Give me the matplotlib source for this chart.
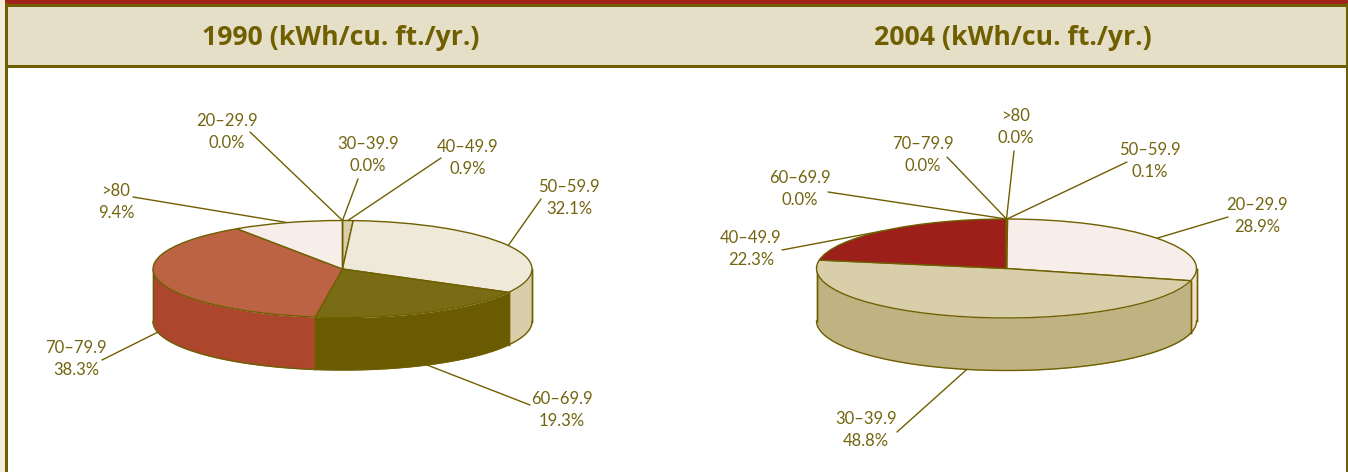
#! /usr/bin/env python
# -*- coding: utf-8 -*-

import numpy as np
from matplotlib import pyplot as plt
from matplotlib.patches import Rectangle

# Data, clockwise from 12 o'clock
labels1990 = ["30–39.9", "40–49.9", "50–59.9", "60–69.9", "70–79.9", ">80", "20–29.9"]
values1990 = [0.0, 0.9, 32.1, 19.3, 38.3, 9.4, 0.0]

labels2004 = ["50–59.9", "20–29.9", "30–39.9", "40–49.9", "60–69.9", "70–79.9", ">80"]
values2004 = [0.1, 28.9, 48.8, 22.3, 0.0, 0.0, 0.0]

title1990 = "1990 (kWh/cu. ft./yr.)"
title2004 = "2004 (kWh/cu. ft./yr.)"

# Styles
OLIVE = "#6f5f00"
TEXT = "#736510"
tops1990 = ["#d8cea9", "#d8cea9", "#efe9da", "#7a6c14", "#bc6343", "#f7eee9", "#f7eee9"]
sides1990 = ["#bfb382", "#bfb382", "#d8cea9", "#6b5b00", "#ac472d", "#f3dfcf", "#f3dfcf"]
tops2004 = ["#efe9da", "#f7eee9", "#d8cea9", "#9c1f19", "#7a6c14", "#bc6343", "#f7eee9"]
sides2004 = ["#d8cea9", "#f3dfcf", "#bfb382", "#84170f", "#6b5b00", "#ac472d", "#f3dfcf"]

# Layout in image pixels: leader ends and text centres
ends1990 = [(358, 179), (441, 158), (541, 199), (530, 405), (102, 360), (133, 197), (250, 132)]
texts1990 = [(368, 155), (468, 158), (569, 198), (562, 410), (76, 359), (116, 202), (227, 132)]
ends2004 = [(1127, 162), (1228, 217), (897, 432), (782, 250), (828, 192), (947, 157), (1014, 151)]
texts2004 = [(1150, 161), (1257, 216), (866, 430), (751, 249), (800, 189), (923, 155), (1016, 127)]

W = 1348
H = 472
plt.rcParams['font.family'] = ['Lato', 'DejaVu Sans']


def px(x, y):
    return x / W, 1 - y / H


def drawPie(fig, values, labels, tops, sides, ends, texts, cx, cy, rx, ry, depthPx):
    # Full-figure axes where the unit circle lands on the wanted ellipse
    ax = fig.add_axes([0, 0, 1, 1])
    wedges, _ = ax.pie(values, startangle=90, counterclock=False, colors=tops,
                       wedgeprops={'edgecolor': OLIVE, 'linewidth': 1.0})
    ax.set_aspect('auto')
    ax.set_xlim(-cx / rx, (W - cx) / rx)
    ax.set_ylim((cy - H) / ry, cy / ry)
    depth = depthPx / ry

    total = float(sum(values))
    acc = 0.0
    for i in range(0, len(values)):
        startDeg = 90 - 360 * acc / total
        endDeg = 90 - 360 * (acc + values[i]) / total
        midDeg = (startDeg + endDeg) / 2
        acc += values[i]

        # Side wall: the part of the wedge on the front half of the rim
        lo = max(endDeg, -180)
        hi = min(startDeg, 0)
        if hi > lo:
            t = np.radians(np.linspace(lo, hi, 120))
            ax.fill_between(np.cos(t), np.sin(t) - depth, np.sin(t), color=sides[i],
                            linewidth=0, zorder=0.5)
            ax.plot(np.cos(t), np.sin(t) - depth, color=OLIVE, linewidth=1.0, zorder=0.6)
            for edge in (t[0], t[-1]):
                ax.plot([np.cos(edge), np.cos(edge)], [np.sin(edge), np.sin(edge) - depth],
                        color=OLIVE, linewidth=1.0, zorder=0.6)

        # Leader from the rim to the label, under the pie
        mid = np.radians(midDeg)
        ax1 = np.cos(mid)
        ay1 = np.sin(mid)
        if ay1 < 0:
            ay1 -= depth
        ax.annotate("", xy=(ax1, ay1), xycoords='data',
                    xytext=px(*ends[i]), textcoords='figure fraction',
                    arrowprops={'arrowstyle': '-', 'color': OLIVE, 'linewidth': 1.0,
                                'shrinkA': 0, 'shrinkB': 0}, zorder=0.2)

        tx, ty = px(*texts[i])
        fig.text(tx, ty, labels[i] + "\n" + ('%.1f' % values[i]) + "%", ha='center',
                 va='center', multialignment='center', color=TEXT, fontsize=12.0,
                 linespacing=1.42)

    # The wall's flat ends of the rim
    for s in (-1, 1):
        ax.plot([s, s], [0, -depth], color=OLIVE, linewidth=1.0, zorder=0.6)
    return ax


if __name__ == "__main__":
    fig = plt.figure(figsize=(W / 100.0, H / 100.0), dpi=100)
    fig.patch.set_facecolor('white')

    # Panel frame and header band
    bg = fig.add_axes([0, 0, 1, 1])
    bg.set_xlim(0, W)
    bg.set_ylim(H, 0)
    bg.axis('off')
    bg.add_patch(Rectangle((0, 0), 5, H, facecolor='#f2ecdd', linewidth=0))
    bg.add_patch(Rectangle((5, 6), W, 59, facecolor='#e5dfc7', linewidth=0))
    bg.add_patch(Rectangle((5, 0), W, 3.5, facecolor='#a3231b', linewidth=0))
    bg.add_patch(Rectangle((5, 3.5), W, 3, facecolor=OLIVE, linewidth=0))
    bg.add_patch(Rectangle((5, 64.5), W, 3, facecolor=OLIVE, linewidth=0))
    bg.add_patch(Rectangle((5, 3), 2.5, H, facecolor=OLIVE, linewidth=0))
    bg.add_patch(Rectangle((1346, 3), 2, H, facecolor=OLIVE, linewidth=0))

    for title, x in ((title1990, 341), (title2004, 1013)):
        tx, ty = px(x, 38)
        fig.text(tx, ty, title, ha='center', va='center', color=OLIVE, fontsize=19.2,
                 fontweight='bold', family=['Open Sans', 'DejaVu Sans'])

    drawPie(fig, values1990, labels1990, tops1990, sides1990, ends1990, texts1990,
            342.5, 269, 189.5, 48.5, 52.5)
    drawPie(fig, values2004, labels2004, tops2004, sides2004, ends2004, texts2004,
            1006.5, 268.5, 190, 49.5, 52.5)

    plt.savefig("out.png", dpi=100)
